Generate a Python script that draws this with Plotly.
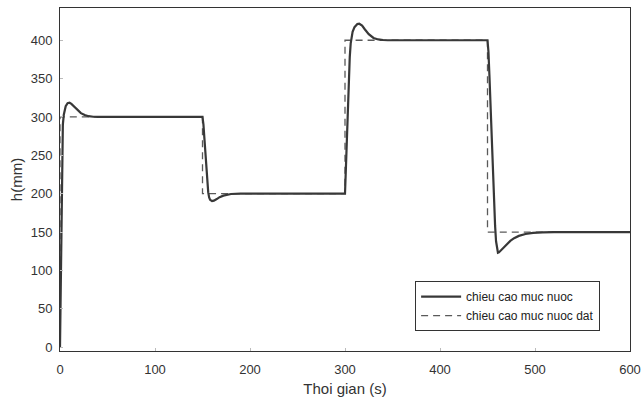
import plotly.graph_objects as go

# Measured water level h (mm) vs time (s)
t_h = [0, 0.5, 1, 1.5, 2, 2.5, 3, 4, 5, 6, 8, 10, 12, 15, 18, 22, 26, 30, 35, 40,
       150, 151, 152, 153, 154, 155, 156, 157, 158, 160, 162, 165, 168, 172, 176, 180, 190,
       300, 301, 302, 303, 304, 305, 306, 307, 308, 310, 313, 315, 318, 321, 325, 330, 335, 340, 345,
       450, 451, 452, 453, 454, 455, 456, 457, 458, 459, 460, 461, 462, 464, 467, 470, 474, 478,
       483, 490, 498, 508, 520, 600]
h_val = [0, 60, 130, 190, 240, 272, 290, 303, 310, 314, 318, 318.5, 317, 313, 309, 305, 302.5, 301, 300.3, 300,
         300, 290, 272, 252, 232, 214, 202, 195, 192, 190.5, 191, 193, 195.5, 197.5, 199, 199.6, 200,
         200, 235, 275, 315, 350, 378, 396, 405, 411, 417, 421, 421.5, 419, 414, 408, 403, 401, 400.3, 400,
         400, 385, 355, 320, 285, 250, 215, 185, 158, 138, 127, 123, 123.5, 126, 130, 134, 138.5, 142,
         145, 147.5, 149, 149.7, 150, 150]

# Setpoint (desired level)
t_sp = [0, 0, 150, 150, 300, 300, 450, 450, 600]
h_sp = [0, 300, 300, 200, 200, 400, 400, 150, 150]

x_ticks = [0, 100, 200, 300, 400, 500, 600]
y_ticks = [0, 50, 100, 150, 200, 250, 300, 350, 400]

fig = go.Figure()
fig.add_trace(go.Scatter(x=t_sp, y=h_sp, mode="lines", name="chieu cao muc nuoc dat",
                         line=dict(color="#5a5a5a", width=1.3, dash="7px,5px")))
fig.add_trace(go.Scatter(x=t_h, y=h_val, mode="lines", name="chieu cao muc nuoc",
                         line=dict(color="#383838", width=2.2)))

font_fam = "Liberation Sans, Arial, sans-serif"
fig.update_layout(
    width=643, height=397,
    margin=dict(l=60, r=13, t=8, b=46, autoexpand=False),
    paper_bgcolor="white", plot_bgcolor="white",
    font=dict(family=font_fam, size=13, color="#333333"),
    showlegend=True,
    legend=dict(x=0.623, y=0.204, xanchor="left", yanchor="top",
                bgcolor="white", bordercolor="#333333", borderwidth=1,
                font=dict(size=12, color="#222222"), traceorder="reversed",
                itemwidth=40, tracegroupgap=0),
    xaxis=dict(range=[0, 600], tickvals=x_ticks, ticks="inside", ticklen=3,
               tickcolor="#bbbbbb", showline=True, linecolor="#333333", linewidth=1,
               mirror=True, showgrid=False, zeroline=False, automargin=False,
               ticklabelstandoff=6, tickfont=dict(size=13),
               title=dict(text="Thoi gian (s)", font=dict(size=15), standoff=8)),
    yaxis=dict(range=[-5, 442], tickvals=y_ticks, ticks="inside", ticklen=3,
               tickcolor="#bbbbbb", showline=True, linecolor="#333333", linewidth=1,
               mirror=True, showgrid=False, zeroline=False, automargin=False,
               ticklabelstandoff=4, tickfont=dict(size=13),
               title=dict(text="h(mm)", font=dict(size=15), standoff=4)),
)

fig.write_html("out.html", config={"displayModeBar": False},
               post_script="document.body.style.margin='0';document.body.style.overflow='hidden';")
